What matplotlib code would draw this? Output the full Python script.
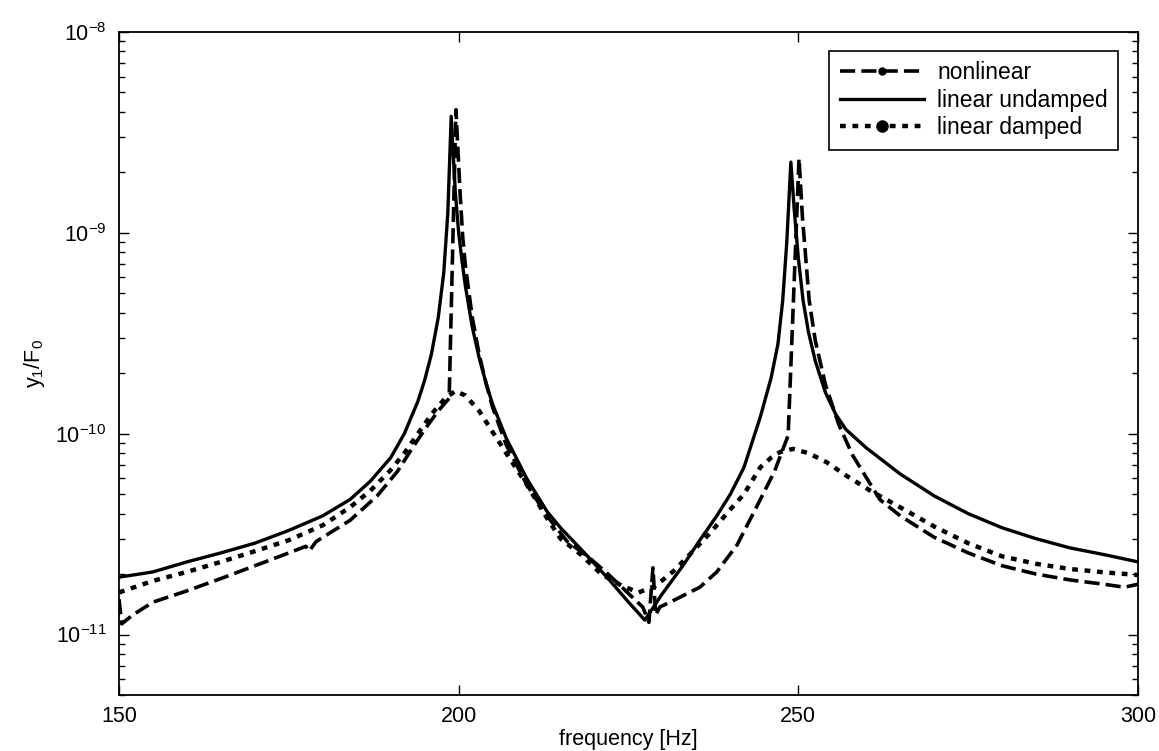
import numpy as np
import matplotlib
matplotlib.use("Agg")
import matplotlib.pyplot as plt
from matplotlib.lines import Line2D

plt.rcParams["font.family"] = ["Liberation Sans", "DejaVu Sans"]
plt.rcParams["mathtext.fontset"] = "custom"
plt.rcParams["mathtext.rm"] = "Liberation Sans"
plt.rcParams["mathtext.it"] = "Liberation Sans:italic"
plt.rcParams["axes.unicode_minus"] = False

# linear undamped
f_und = [150, 155, 160, 165, 170, 175, 180, 184, 187, 190, 192, 194, 195, 196, 197,
         197.8, 198.4, 198.9, 199.5, 200, 200.5, 201, 202, 203, 204, 205, 207, 210,
         213, 215, 219, 222, 225, 227.4, 230, 233, 235.5, 238, 240, 242, 244.4, 246,
         247, 247.7, 248.3, 248.9, 249.4, 250, 250.7, 251.5, 252.5, 254, 255.5, 257,
         260, 265, 270, 275, 280, 285, 290, 295, 300]
y_und = [1.93e-11, 2.05e-11, 2.3e-11, 2.55e-11, 2.85e-11, 3.3e-11, 3.9e-11, 4.7e-11,
         5.8e-11, 7.6e-11, 1.0e-10, 1.45e-10, 1.85e-10, 2.5e-10, 3.8e-10, 6.3e-10,
         1.25e-9, 3.8e-9, 1.6e-9, 1.0e-9, 7.2e-10, 5.4e-10, 3.4e-10, 2.4e-10, 1.8e-10,
         1.4e-10, 9.5e-11, 6.0e-11, 4.1e-11, 3.4e-11, 2.45e-11, 1.9e-11, 1.45e-11,
         1.18e-11, 1.6e-11, 2.2e-11, 2.95e-11, 3.9e-11, 5.0e-11, 6.8e-11, 1.21e-10,
         1.9e-10, 2.8e-10, 4.6e-10, 9e-10, 2.25e-9, 1.3e-9, 7.5e-10, 4.6e-10, 3.2e-10,
         2.3e-10, 1.6e-10, 1.25e-10, 1.05e-10, 8.5e-11, 6.3e-11, 4.9e-11, 4.0e-11,
         3.4e-11, 3.0e-11, 2.7e-11, 2.5e-11, 2.3e-11]

# nonlinear
f_nl = [150, 150.4, 152, 155, 160, 165, 170, 175, 177.5, 178, 179, 181, 184, 188, 191,
        193, 195, 197, 198.6, 199.6, 200.2, 200.6, 201, 202, 203, 204, 205, 207, 210,
        213, 216, 219, 222, 225, 227.1, 228.0, 228.6, 229.0, 229.6, 232, 235.5, 238,
        241, 244.4, 246.5, 248.5, 250.1, 250.6, 251.6, 252.5, 254, 256, 258, 262, 265,
        270, 275, 280, 285, 290, 295, 298, 300]
y_nl = [1.5e-11, 1.13e-11, 1.25e-11, 1.45e-11, 1.65e-11, 1.9e-11, 2.2e-11, 2.55e-11,
        2.75e-11, 2.6e-11, 2.9e-11, 3.2e-11, 3.7e-11, 4.9e-11, 6.5e-11, 8.3e-11,
        1.05e-10, 1.3e-10, 1.5e-10, 4.1e-9, 1.6e-9, 9.5e-10, 6.8e-10, 3.8e-10, 2.5e-10,
        1.8e-10, 1.35e-10, 8.8e-11, 5.6e-11, 3.9e-11, 2.9e-11, 2.45e-11, 2.0e-11,
        1.6e-11, 1.37e-11, 1.15e-11, 2.15e-11, 1.25e-11, 1.37e-11, 1.5e-11, 1.72e-11,
        2.05e-11, 2.8e-11, 4.7e-11, 6.5e-11, 9.8e-11, 2.35e-9, 1.2e-9, 4.6e-10,
        2.9e-10, 1.75e-10, 1.1e-10, 7.8e-11, 4.7e-11, 3.9e-11, 3.05e-11, 2.55e-11,
        2.2e-11, 2.0e-11, 1.87e-11, 1.78e-11, 1.72e-11, 1.78e-11]

# linear damped
f_dmp = [150, 155, 160, 165, 170, 175, 180, 184, 187, 190, 192, 194, 196, 198, 199.5,
         201, 203, 205, 207, 210, 213, 215, 218, 221, 224, 226.5, 229, 231.5, 234, 237,
         240, 242, 244.4, 246, 247.3, 249.2, 251.5, 254.2, 257, 260.6, 265, 270, 275,
         280, 285, 290, 295, 300]
y_dmp = [1.62e-11, 1.85e-11, 2.05e-11, 2.3e-11, 2.6e-11, 2.95e-11, 3.5e-11, 4.3e-11,
         5.2e-11, 6.6e-11, 8e-11, 1.0e-10, 1.25e-10, 1.5e-10, 1.63e-10, 1.55e-10,
         1.3e-10, 1.02e-10, 8.0e-11, 5.6e-11, 3.8e-11, 3.0e-11, 2.5e-11, 2.0e-11,
         1.75e-11, 1.62e-11, 1.75e-11, 2.05e-11, 2.5e-11, 3.2e-11, 4.2e-11, 5.0e-11,
         6.8e-11, 7.6e-11, 8.1e-11, 8.4e-11, 8.0e-11, 7.2e-11, 6.2e-11, 5.2e-11,
         4.3e-11, 3.45e-11, 2.85e-11, 2.45e-11, 2.25e-11, 2.12e-11, 2.04e-11, 1.98e-11]

x_ticks = [150, 200, 250, 300]

fig = plt.figure(figsize=(11.59, 7.51), dpi=100)
ax = fig.add_axes([119 / 1159, 56 / 751, 1019 / 1159, 663 / 751])

dash_nl = (4.2, 1.7)
dash_dmp = (1.3, 1.5)

ax.plot(f_nl, y_nl, color="black", lw=2.6, dashes=dash_nl)
ax.plot(f_und, y_und, color="black", lw=2.4)
ax.plot(f_dmp, y_dmp, color="black", lw=3.2, dashes=dash_dmp)

ax.set_yscale("log")
ax.set_xlim(150, 300)
ax.set_ylim(5e-12, 1e-8)
ax.set_xticks(x_ticks)

ax.tick_params(which="both", direction="in", top=True, right=True, labelsize=15.5)
ax.tick_params(which="major", length=7, width=1)
ax.tick_params(which="minor", length=4.5, width=1)
ax.tick_params(axis="x", pad=8)
ax.tick_params(axis="y", pad=9)
for s in ax.spines.values():
    s.set_linewidth(1.3)

ax.set_xlabel("frequency [Hz]", fontsize=15.5, labelpad=1)
ax.set_ylabel(r"$\mathrm{y_1/F_0}$", fontsize=15.5, labelpad=6)

handles = [
    Line2D([], [], color="black", lw=2.6, dashes=dash_nl, marker=".", markersize=10),
    Line2D([], [], color="black", lw=2.4),
    Line2D([], [], color="black", lw=3.2, dashes=dash_dmp, marker=".", markersize=16),
]
labels = ["nonlinear", "linear undamped", "linear damped"]
leg = ax.legend(handles, labels, loc="upper right",
                bbox_to_anchor=(999 / 1019, 1 - 19 / 663), borderaxespad=0,
                fontsize=16.5, handlelength=3.7, handletextpad=0.55, labelspacing=0.2,
                numpoints=1, fancybox=False, framealpha=1, edgecolor="black",
                borderpad=0.45)
leg.get_frame().set_linewidth(1.2)

fig.savefig("out.png", dpi=100)
